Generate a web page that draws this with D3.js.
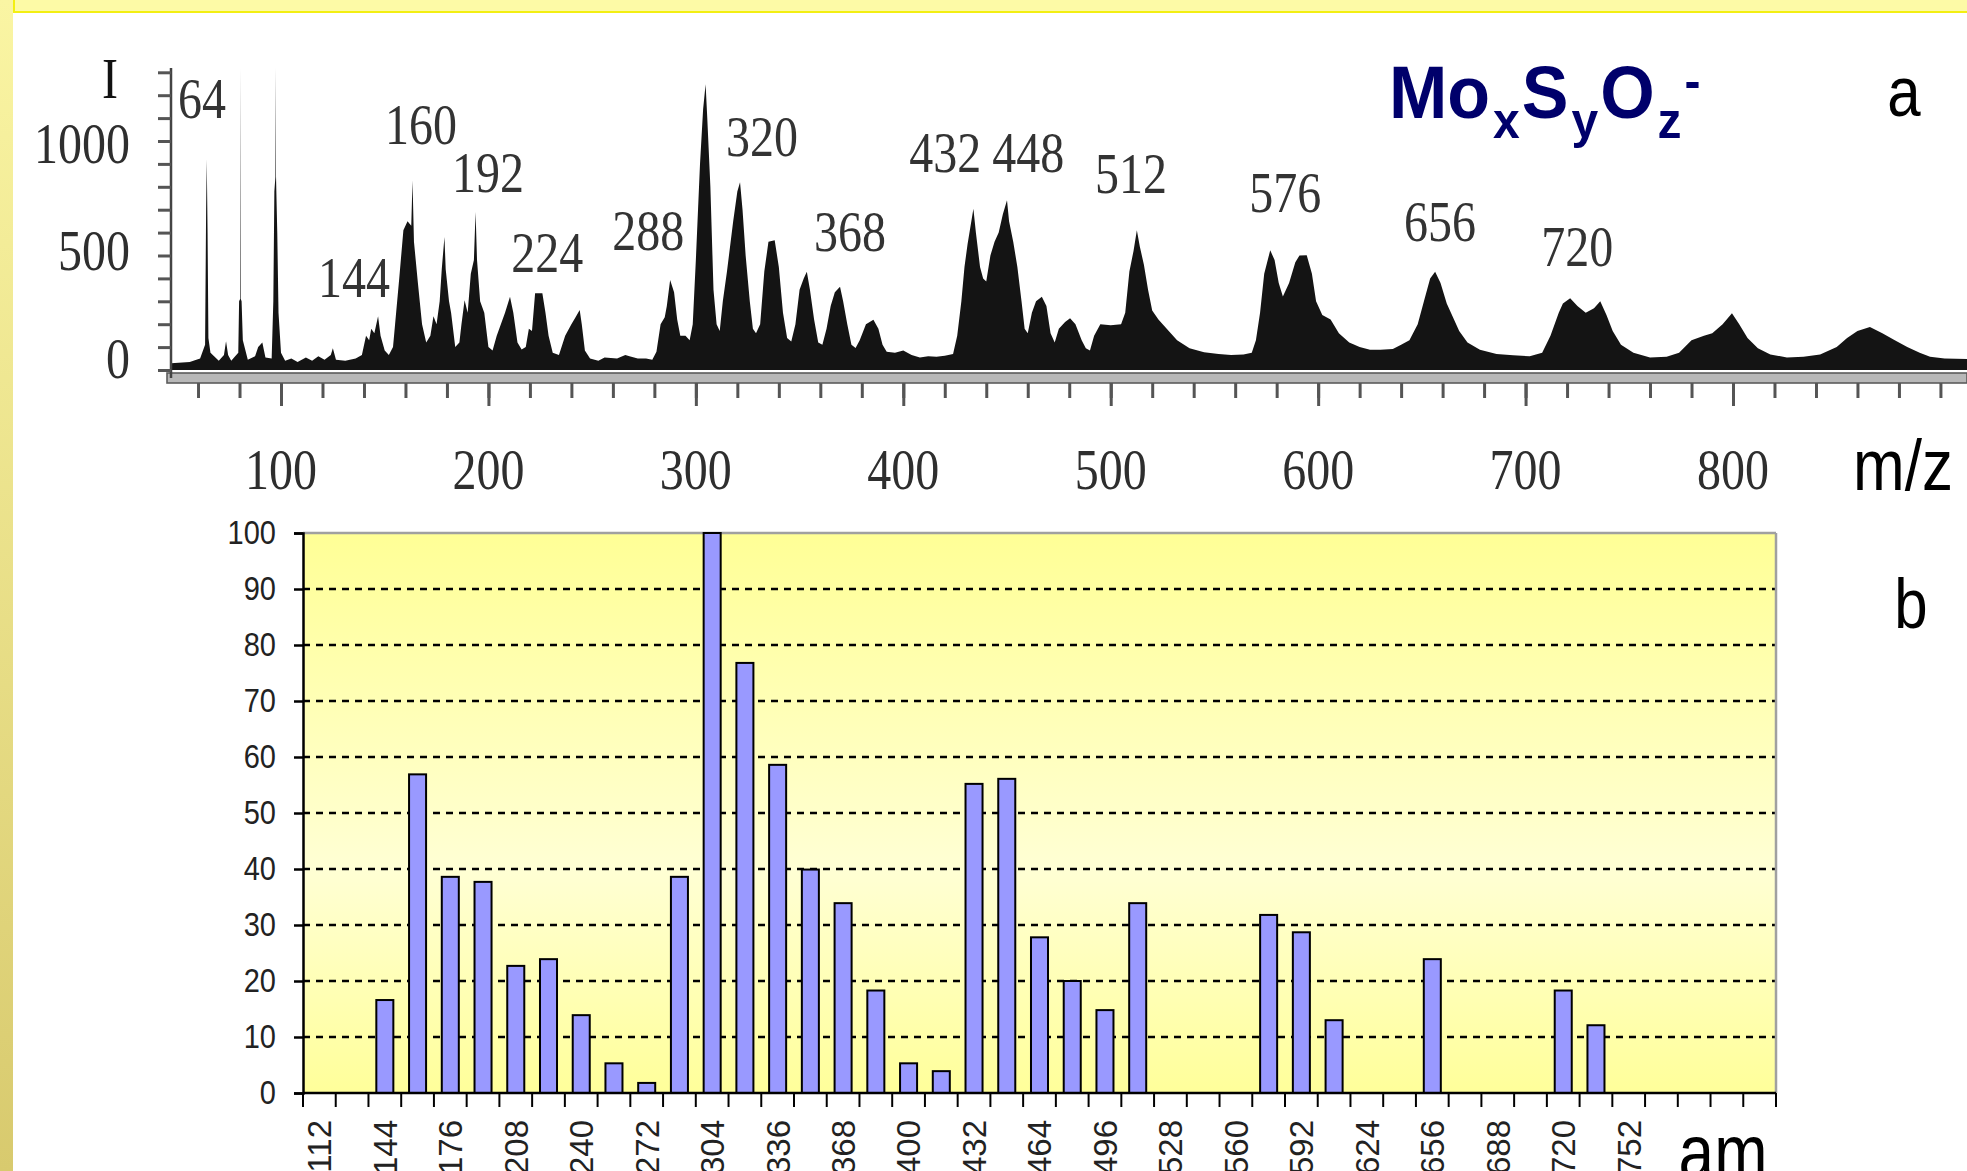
<!DOCTYPE html>
<html>
<head>
<meta charset="utf-8">
<script src="https://cdn.jsdelivr.net/npm/d3@7"></script>
<style>
  html, body { margin: 0; padding: 0; background: #fff; overflow: hidden; }
  svg { display: block; }
</style>
</head>
<body>
<div id="chart"></div>
<script>
// ---- panel a : mass spectrum, [m/z, intensity] ----
const spectrum = [
  [47,30],[56,35],[61,50],[63.4,110],[63.9,700],[64.2,920],[64.6,600],[65,140],[66,75],[70,40],[72.5,65],[73.5,126],
  [74.5,65],[76,40],[79.4,75],[79.8,300],[80.3,310],[80.45,1320],[80.6,310],[81,300],[81.6,130],[84,45],[87.5,60],[89,100],
  [91,120],[92.5,55],[95.5,50],[96.3,300],[96.8,780],[97.3,843],[97.45,1320],[97.6,843],[98.2,600],[98.8,250],[100,75],[102,40],
  [105,50],[108,35],[112,55],[115,40],[118,60],[121,45],[124,65],[125,95],[126.5,45],[131,40],
  [136,50],[139,65],[141,150],[142.5,130],[143.5,180],[145,160],[146.8,235],[148,150],[150,85],[152,65],
  [154,100],[155,200],[157,400],[159,610],[161,650],[162.8,630],[163.4,827],[164.1,560],[166,380],[168,200],
  [170,120],[172,150],[173.5,235],[175,200],[176.5,300],[177.5,440],[178.8,581],[179.4,440],[181,300],[182,250],
  [184,100],[186,120],[187,200],[188.5,305],[190,250],[191.5,420],[193,480],[193.8,690],[194.5,480],[196,300],
  [198,250],[200,100],[202,85],[204,150],[206,200],[208,250],[210.4,320],[212,250],[214,120],[216,90],
  [218,100],[219.5,180],[221,170],[222.5,335],[226,335],[227.5,250],[229,150],[231,75],[234,65],[237,150],
  [240,200],[242,230],[244,262],[245,200],[246.5,85],[249,50],[253,40],[256,55],[262,50],[266,65],
  [268,60],[272,50],[276,50],[279,45],[281,80],[283,200],[285,230],[286,280],[287.6,393],[289.5,340],
  [291,220],[292.5,150],[295,150],[297,130],[298.5,200],[300,480],[302,900],[303.5,1139],[304.7,1248],[305.5,1100],
  [307,800],[308.5,350],[310,200],[311.5,170],[313,300],[315,430],[318,650],[320,780],[321.3,820],[322.5,700],
  [324,500],[326,300],[327.5,180],[329,160],[331,200],[333,430],[335,560],[338,567],[340,450],[342,250],
  [344,140],[346,125],[348,200],[350,350],[352,400],[353.5,429],[355,350],[357,220],[359,120],[361,110],
  [363,180],[365,280],[367,340],[369.5,364],[371,300],[373,200],[375,110],[377,96],[379,130],[382,200],
  [385.6,219],[388,180],[390,110],[392,80],[396,75],[400,85],[404,65],[408,55],[412,60],[416,58],
  [420,62],[424,70],[426,150],[428,300],[429.5,450],[431,550],[433.8,704],[435,600],[437,450],[438.5,400],
  [440,387],[442,500],[444,560],[446,600],[448,680],[450,741],[451,650],[453,560],[455,450],[457,300],
  [458.5,180],[460,160],[462,250],[464,300],[466.8,320],[469,280],[471,160],[473,120],[475,180],[478,210],
  [480.4,226],[483,200],[486,130],[488,95],[490,85],[492,150],[495,200],[500,195],[505,200],[507,250],
  [509,430],[511,520],[512.6,610],[514,540],[516,460],[518,350],[520,260],[523,220],[527,180],[532,130],
  [538,95],[545,78],[552,70],[558,66],[564,68],[568,75],[570,130],[572,250],[574,420],[576.9,523],
  [579,480],[581,380],[583,321],[586,380],[589,470],[591,500],[594.5,501],[597,420],[599,300],[602,240],
  [606,220],[610,160],[615,120],[620,100],[625,88],[630,88],[636,92],[640,110],[644,130],[648,200],
  [651,300],[654,400],[656.4,429],[659,380],[662,290],[665,230],[668,170],[672,120],[678,88],[686,70],
  [694,64],[702,60],[708,75],[712,150],[716,250],[718,290],[721.5,313],[725,280],[729,250],[733,270],
  [736,300],[739,240],[742,170],[746,110],[752,75],[760,55],[768,58],[774,75],[780,130],[786,150],
  [790,160],[795,200],[799.5,248],[803,200],[807,140],[812,95],[818,68],[826,55],[834,58],[842,68],
  [850,100],[855,140],[860,170],[866,188],[872,160],[878,130],[884,100],[890,75],[895,58],[902,50],[914,48]
];
const peakLabels  = ["64","144","160","192","224","288","320","368","432","448","512","576","656","720"];
const peakLabelMz = [61.9, 135.2, 167.5, 199.8, 228.3, 277, 331.9, 374.3, 420.2, 460.2, 509.8, 584.1, 658.8, 724.9];
const peakLabelI  = [1188, 406, 1074, 865, 515, 611, 1022, 607, 952, 952, 860, 777, 651, 541];
const mzTicks = [100, 200, 300, 400, 500, 600, 700, 800];
const mzMinorTicks = d3.range(60, 901, 20);
const intTicks = [0, 500, 1000];
const intMinorTicks = d3.range(0, 1301, 100);

// ---- panel b : relative abundance per mass ----
const amCategories = d3.range(112, 817, 16);
const amValues = [0, 0, 16.6, 56.9, 38.6, 37.7, 22.7, 23.9, 13.9, 5.3,
                  1.8, 38.6, 100, 76.8, 58.6, 39.9, 33.9, 18.3, 5.3, 3.9,
                  55.2, 56.1, 27.8, 20.0, 14.8, 33.9, 0, 0, 0, 31.8,
                  28.7, 13.0, 0, 0, 23.9, 0, 0, 0, 18.3, 12.1,
                  0, 0, 0, 0, 0];
const amTickLabels = d3.range(112, 753, 32);
const pctTicks = d3.range(0, 101, 10);

const W = 1967, H = 1171;
const S = 1.18; // the picture is stretched vertically, text too

const svg = d3.select("#chart").append("svg").attr("width", W).attr("height", H);
const defs = svg.append("defs");

const side = defs.append("linearGradient").attr("id", "sideBg").attr("x1", 0).attr("y1", 0).attr("x2", 0).attr("y2", 1);
side.append("stop").attr("offset", "0%").attr("stop-color", "#faf5a3");
side.append("stop").attr("offset", "100%").attr("stop-color", "#d8ca6e");

const plotBg = defs.append("linearGradient").attr("id", "plotBg").attr("x1", 0).attr("y1", 0).attr("x2", 0).attr("y2", 1);
plotBg.append("stop").attr("offset", "0%").attr("stop-color", "#ffff96");
plotBg.append("stop").attr("offset", "60%").attr("stop-color", "#ffffd4");
plotBg.append("stop").attr("offset", "100%").attr("stop-color", "#ffff9a");

// slide frame
svg.append("rect").attr("x", 0).attr("y", 0).attr("width", 13).attr("height", H).attr("fill", "url(#sideBg)");
svg.append("rect").attr("x", 14).attr("y", -3).attr("width", W).attr("height", 15)
  .attr("fill", "#fdfaa6").attr("stroke", "#f3ef12").attr("stroke-width", 2);

function stretchText(parent, x, y, str, size, family, anchor, color) {
  return parent.append("text")
    .attr("transform", `translate(${x},${y}) scale(1,${S})`)
    .attr("text-anchor", anchor)
    .attr("dy", "0.35em")
    .style("font-family", family)
    .style("font-size", size + "px")
    .attr("fill", color)
    .text(str);
}

// ================= panel a =================
const A = {left: 171, top: 68, base: 370, band: 373};
const xA = d3.scaleLinear().domain([100, 800]).range([281, 1733]);
const yA = d3.scaleLinear().domain([0, 1000]).range([A.base, 141]);
// the printed intensity labels sit a little off their ticks in the original
const yALabel = d3.scaleLinear().domain([0, 1000]).range([358, 143]);
const gA = svg.append("g");
const serif = "'Liberation Serif', 'Times New Roman', serif";
const sans = "'Liberation Sans', Arial, sans-serif";

const area = d3.area()
  .x(d => xA(d[0]))
  .y0(yA(0))
  .y1(d => yA(Math.min(d[1], 1320)));

gA.append("path").datum(spectrum).attr("d", area).attr("fill", "#141414");

// axis band
gA.append("rect").attr("x", A.left - 4).attr("y", A.band).attr("width", W - A.left + 4).attr("height", 10)
  .attr("fill", "#b8b8b8").attr("stroke", "#5c5c5c").attr("stroke-width", 1.6);

const minorAx = gA.append("g").attr("transform", `translate(0,${A.band + 10})`)
  .call(d3.axisBottom(xA).tickValues(mzMinorTicks).tickSize(15).tickFormat(""));
const majorAx = gA.append("g").attr("transform", `translate(0,${A.band + 10})`)
  .call(d3.axisBottom(xA).tickValues(mzTicks).tickSize(23).tickFormat(""));
[minorAx, majorAx].forEach(g => {
  g.select(".domain").remove();
  g.selectAll("line").attr("stroke", "#555").attr("stroke-width", 3);
});

gA.append("line").attr("x1", A.left).attr("x2", A.left).attr("y1", A.top).attr("y2", A.band + 5)
  .attr("stroke", "#444").attr("stroke-width", 2.5);
const yAx = gA.append("g").attr("transform", `translate(${A.left},0)`)
  .call(d3.axisLeft(yA).tickValues(intMinorTicks).tickSize(13).tickFormat(""));
yAx.select(".domain").remove();
yAx.selectAll("line").attr("stroke", "#555").attr("stroke-width", 3);

mzTicks.forEach(v => stretchText(gA, xA(v), 469, v, 48, serif, "middle", "#2e2e2e"));
intTicks.forEach(v => stretchText(gA, 130, yALabel(v), v, 48, serif, "end", "#2e2e2e"));
peakLabels.forEach((t, i) => stretchText(gA, xA(peakLabelMz[i]), yA(peakLabelI[i]), t, 48, serif, "middle", "#333"));
stretchText(gA, 110, 78, "I", 48, serif, "middle", "#111");

stretchText(gA, 1904, 91, "a", 60, sans, "middle", "#000");
stretchText(gA, 1903, 464, "m/z", 62, sans, "middle", "#000");

// formula
const formula = gA.append("text")
  .attr("transform", `translate(1389,118) scale(1,1.05)`)
  .style("font-family", sans)
  .style("font-weight", "bold")
  .style("font-size", "70px")
  .attr("fill", "#00006b");
formula.append("tspan").text("Mo");
formula.append("tspan").attr("dx", 3).attr("dy", 19).style("font-size", "48px").text("x");
formula.append("tspan").attr("dx", 2).attr("dy", -19).text("S");
formula.append("tspan").attr("dx", 3).attr("dy", 19).style("font-size", "48px").text("y");
formula.append("tspan").attr("dx", 2).attr("dy", -19).text("O");
formula.append("tspan").attr("dx", 3).attr("dy", 19).style("font-size", "48px").text("z");
formula.append("tspan").attr("dx", 3).attr("dy", -38).style("font-size", "48px").text("-");

// ================= panel b =================
const B = {left: 303, right: 1776, top: 533, bottom: 1093};
const xB = d3.scaleBand().domain(amCategories).range([B.left, B.right]).paddingInner(0.48).paddingOuter(0.24);
const yB = d3.scaleLinear().domain([0, 100]).range([B.bottom, B.top]);
const gB = svg.append("g");

gB.append("rect").attr("x", B.left).attr("y", B.top).attr("width", B.right - B.left).attr("height", B.bottom - B.top)
  .attr("fill", "url(#plotBg)");

gB.selectAll("line.grid").data(pctTicks.filter(v => v > 0 && v < 100)).enter().append("line")
  .attr("class", "grid")
  .attr("x1", B.left).attr("x2", B.right)
  .attr("y1", d => yB(d)).attr("y2", d => yB(d))
  .attr("stroke", "#000").attr("stroke-width", 2.5).attr("stroke-dasharray", "7,6");

gB.append("line").attr("x1", B.left).attr("x2", B.right).attr("y1", B.top).attr("y2", B.top)
  .attr("stroke", "#a0a0a0").attr("stroke-width", 2.5);
gB.append("line").attr("x1", B.right).attr("x2", B.right).attr("y1", B.top).attr("y2", B.bottom)
  .attr("stroke", "#a0a0a0").attr("stroke-width", 2.5);

const barData = amCategories.map((c, i) => ({c: c, v: amValues[i]})).filter(d => d.v > 0);
gB.selectAll("rect.bar").data(barData).enter().append("rect")
  .attr("class", "bar")
  .attr("x", d => xB(d.c))
  .attr("width", xB.bandwidth())
  .attr("y", d => yB(d.v))
  .attr("height", d => yB(0) - yB(d.v))
  .attr("fill", "#9999ff").attr("stroke", "#000").attr("stroke-width", 2);

const yBx = gB.append("g").attr("transform", `translate(${B.left},0)`)
  .call(d3.axisLeft(yB).tickValues(pctTicks).tickSize(9).tickPadding(18));
yBx.select(".domain").attr("stroke", "#000").attr("stroke-width", 2.5);
yBx.selectAll("line").attr("stroke", "#000").attr("stroke-width", 2.5);
yBx.selectAll("text")
  .style("font-family", sans).style("font-size", "29px").attr("fill", "#222")
  .attr("transform", "scale(1,1.15)");

// category boundary ticks
const cellEdges = amCategories.map(c => xB(c) - xB.step() * xB.paddingInner() / 2).concat([B.right]);
gB.selectAll("line.xt").data(cellEdges).enter().append("line")
  .attr("class", "xt")
  .attr("x1", d => d).attr("x2", d => d)
  .attr("y1", B.bottom).attr("y2", B.bottom + 14)
  .attr("stroke", "#000").attr("stroke-width", 2);
gB.append("line").attr("x1", B.left).attr("x2", B.right).attr("y1", B.bottom).attr("y2", B.bottom)
  .attr("stroke", "#000").attr("stroke-width", 2.5);

const xBx = gB.append("g").attr("transform", `translate(0,${B.bottom})`)
  .call(d3.axisBottom(xB).tickValues(amTickLabels).tickSize(0).tickPadding(27));
xBx.select(".domain").remove();
xBx.selectAll("text")
  .style("font-family", sans).style("font-size", "33px").attr("fill", "#222")
  .attr("y", 0).attr("x", -27).attr("dy", "0.36em")
  .attr("transform", "rotate(-90)")
  .style("text-anchor", "end");

stretchText(gB, 1911, 603, "b", 60, sans, "middle", "#000");
stretchText(gB, 1723, 1152, "am", 64, sans, "middle", "#000");
</script>
</body>
</html>
